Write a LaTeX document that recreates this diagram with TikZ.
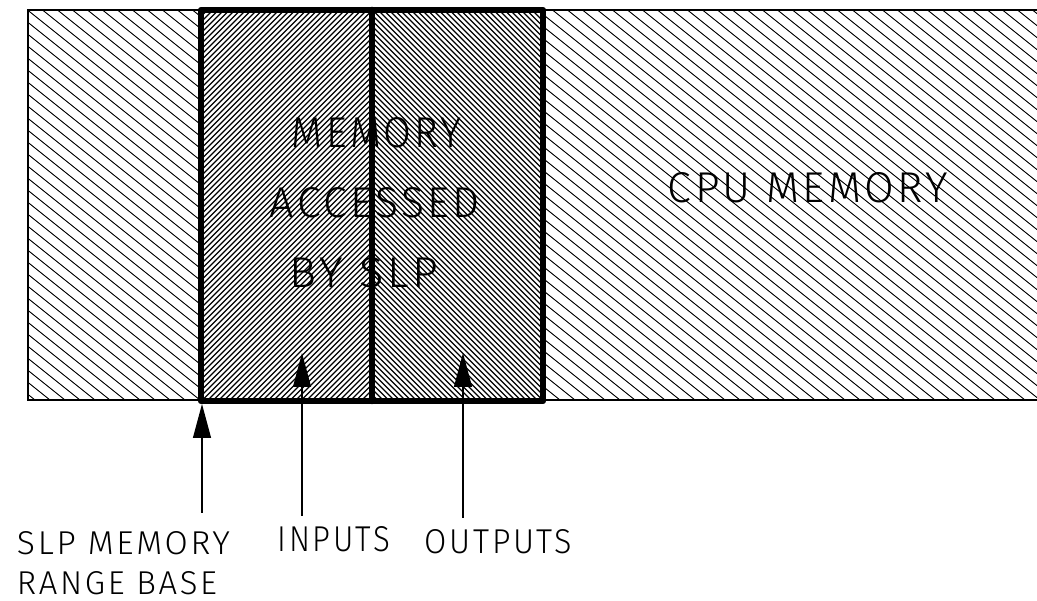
\documentclass[tikz,border=0pt]{standalone}
\usepackage{fontspec}
\usepackage{graphicx}
\usetikzlibrary{arrows.meta}
\newfontfamily\plotfont{Fira Sans Light}[LetterSpace=8]
% text scaled to a given width and cap height (in pt)
\newcommand\plottext[3]{\resizebox{#1pt}{#2pt}{\plotfont #3}}

\begin{document}
\begin{tikzpicture}[x=1pt,y=-1pt,
    plotlabel/.style={inner sep=0pt, outer sep=0pt},
    widehatch/.style={line width=0.9pt},
    densehatch/.style={line width=1.4pt},
    outline/.style={line width=1.4pt},
    frame/.style={line width=6.5pt, line join=round, line cap=round},
    pointer/.style={line width=1.2pt, -{Triangle[length=34pt,width=18pt]}}]
  \useasboundingbox (0,0) rectangle (1037,601);

  % CPU memory band, hatched down to the right
  \begin{scope}
    \clip (28,10) rectangle (1040,400);
    \foreach \c in {-525,-510,...,1060}
      \draw[widehatch] (\c,0) -- (\c+520,416);
  \end{scope}
  \draw[outline] (1037,10) -- (28,10) -- (28,400) -- (1037,400);

  % range accessed by the SLP
  \fill[white] (201,10) rectangle (543,401);
  \begin{scope}
    \clip (201,10) rectangle (372,401);
    \foreach \c in {-220,-214.5,...,400}
      \draw[densehatch] (\c,410) -- (\c+410,0);
  \end{scope}
  \begin{scope}
    \clip (372,10) rectangle (543,401);
    \foreach \c in {-50,-44.5,...,560}
      \draw[densehatch] (\c,0) -- (\c+410,410);
  \end{scope}
  \draw[frame] (201,10) rectangle (543,401);
  \draw[frame] (372,10) -- (372,401);

  % labels inside the bands
  \node[plotlabel] (mem1) at (377,133) {\plottext{170}{30}{MEMORY}};
  \node[plotlabel] (mem2) at (375,203) {\plottext{210}{30}{ACCESSED}};
  \node[plotlabel] (mem3) at (364,273) {\plottext{148}{30}{BY SLP}};
  \node[plotlabel] (cpu) at (808,188) {\plottext{280}{30}{CPU MEMORY}};

  % labels below
  \node[plotlabel] (base1) at (123.5,543) {\plottext{213}{23}{SLP MEMORY}};
  \node[plotlabel] (base2) at (117,583) {\plottext{200}{23}{RANGE BASE}};
  \node[plotlabel] (inputs) at (334,539.5) {\plottext{112}{25}{INPUTS}};
  \node[plotlabel] (outputs) at (498.5,542) {\plottext{147}{24}{OUTPUTS}};

  % pointers
  \coordinate (baseTail) at (202,513);
  \coordinate (baseTip) at (202,404);
  \coordinate (inTail) at (302,516);
  \coordinate (inTip) at (302,353);
  \coordinate (outTail) at (463,518);
  \coordinate (outTip) at (463,353);
  \draw[pointer] (baseTail) -- (baseTip);
  \draw[pointer] (inTail) -- (inTip);
  \draw[pointer] (outTail) -- (outTip);
\end{tikzpicture}
\end{document}
